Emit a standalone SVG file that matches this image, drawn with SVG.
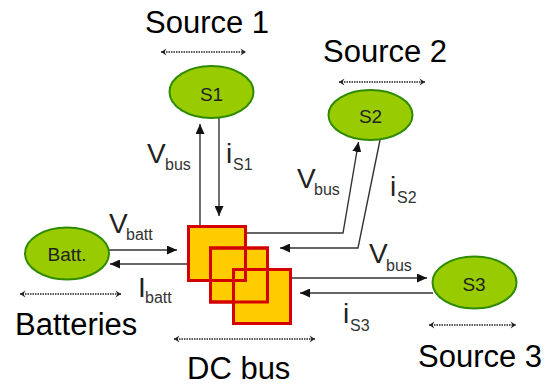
<svg xmlns="http://www.w3.org/2000/svg" width="547" height="387" viewBox="0 0 547 387">
<style>
.big{font-family:"Liberation Sans",Arial,sans-serif;font-size:31px;fill:#000}
.lbl{font-family:"Liberation Sans",Arial,sans-serif;font-size:28px;fill:#222}
.sub{font-family:"Liberation Sans",Arial,sans-serif;font-size:16px;fill:#333}
.nt{font-family:"Liberation Sans",Arial,sans-serif;font-size:19px;fill:#222;text-anchor:middle}
.ell{fill:#99cc00;stroke:#2e8b00;stroke-width:2}
.box{fill:#ffcc00;stroke:#d40000;stroke-width:3}
.boxo{fill:none;stroke:#d40000;stroke-width:3}
.con{fill:none;stroke:#333;stroke-width:1.4;marker-end:url(#ah)}
.dot{fill:none;stroke:#222;stroke-width:1.6;stroke-dasharray:1.5 1;marker-start:url(#ch);marker-end:url(#ch)}
</style>
<defs>
<marker id="ah" markerUnits="userSpaceOnUse" markerWidth="11" markerHeight="9" refX="10" refY="4.5" orient="auto"><path d="M0,0 L10,4.5 L0,9 z" fill="#111"/></marker>
<marker id="ch" markerUnits="userSpaceOnUse" markerWidth="9" markerHeight="9" refX="6" refY="4" orient="auto-start-reverse"><path d="M0.5,0.5 L6,4 L0.5,7.5 L2.5,4 z" fill="#222"/></marker>
</defs>
<rect width="547" height="387" fill="#fff"/>

<g id="connectors">
<path class="con" d="M200,226 L200,124"/>
<path class="con" d="M219,118 L219,216"/>
<path class="con" d="M246,233 L343,233 L358.5,142"/>
<path class="con" d="M380,140 L358,248 L280,248"/>
<path class="con" d="M292,278 L427,278"/>
<path class="con" d="M433,293 L300,293"/>
<path class="con" d="M109,250 L177,250"/>
<path class="con" d="M187,264 L110,264"/>
</g>

<g id="s1">
<text class="big" x="145" y="33">Source 1</text>
<path class="dot" d="M161,52 L246,52"/>
<ellipse class="ell" cx="211.5" cy="92" rx="42" ry="26"/>
<text class="nt" x="211.5" y="101">S1</text>
</g>

<g id="s2">
<text class="big" x="323" y="62">Source 2</text>
<path class="dot" d="M339,82 L425,82"/>
<ellipse class="ell" cx="370.5" cy="115" rx="42" ry="25"/>
<text class="nt" x="370.5" y="123">S2</text>
</g>

<g id="s3">
<ellipse class="ell" cx="474.5" cy="282.5" rx="42" ry="26"/>
<text class="nt" x="474" y="291">S3</text>
<path class="dot" d="M429,325 L516,325"/>
<text class="big" x="418" y="367">Source 3</text>
</g>

<g id="batteries">
<ellipse class="ell" cx="67" cy="253.5" rx="42" ry="26"/>
<text class="nt" x="67" y="261">Batt.</text>
<path class="dot" d="M20,294 L121,294"/>
<text class="big" x="15" y="335">Batteries</text>
</g>

<g id="dcbus">
<rect class="box" x="188.5" y="226.5" width="57" height="54"/>
<rect class="box" x="210.5" y="248" width="57" height="54"/>
<rect class="box" x="233.5" y="269.5" width="57" height="54"/>
<rect class="boxo" x="188.5" y="226.5" width="57" height="54"/>
<rect class="boxo" x="210.5" y="248" width="57" height="54"/>
<path class="dot" d="M174,339 L315,339"/>
<text class="big" x="187" y="379">DC bus</text>
</g>

<g id="labels">
<text class="lbl" x="147" y="163">V</text><text class="sub" x="165" y="170">bus</text>
<text class="lbl" x="226" y="163">i</text><text class="sub" x="233" y="170">S1</text>
<text class="lbl" x="297" y="188">V</text><text class="sub" x="314" y="195">bus</text>
<text class="lbl" x="390" y="196">i</text><text class="sub" x="397" y="203">S2</text>
<text class="lbl" x="369" y="263">V</text><text class="sub" x="386" y="271">bus</text>
<text class="lbl" x="343" y="323">i</text><text class="sub" x="350" y="331">S3</text>
<text class="lbl" x="109" y="233">V</text><text class="sub" x="126" y="240">batt</text>
<text class="lbl" x="138" y="297">I</text><text class="sub" x="145" y="303">batt</text>
</g>
</svg>
